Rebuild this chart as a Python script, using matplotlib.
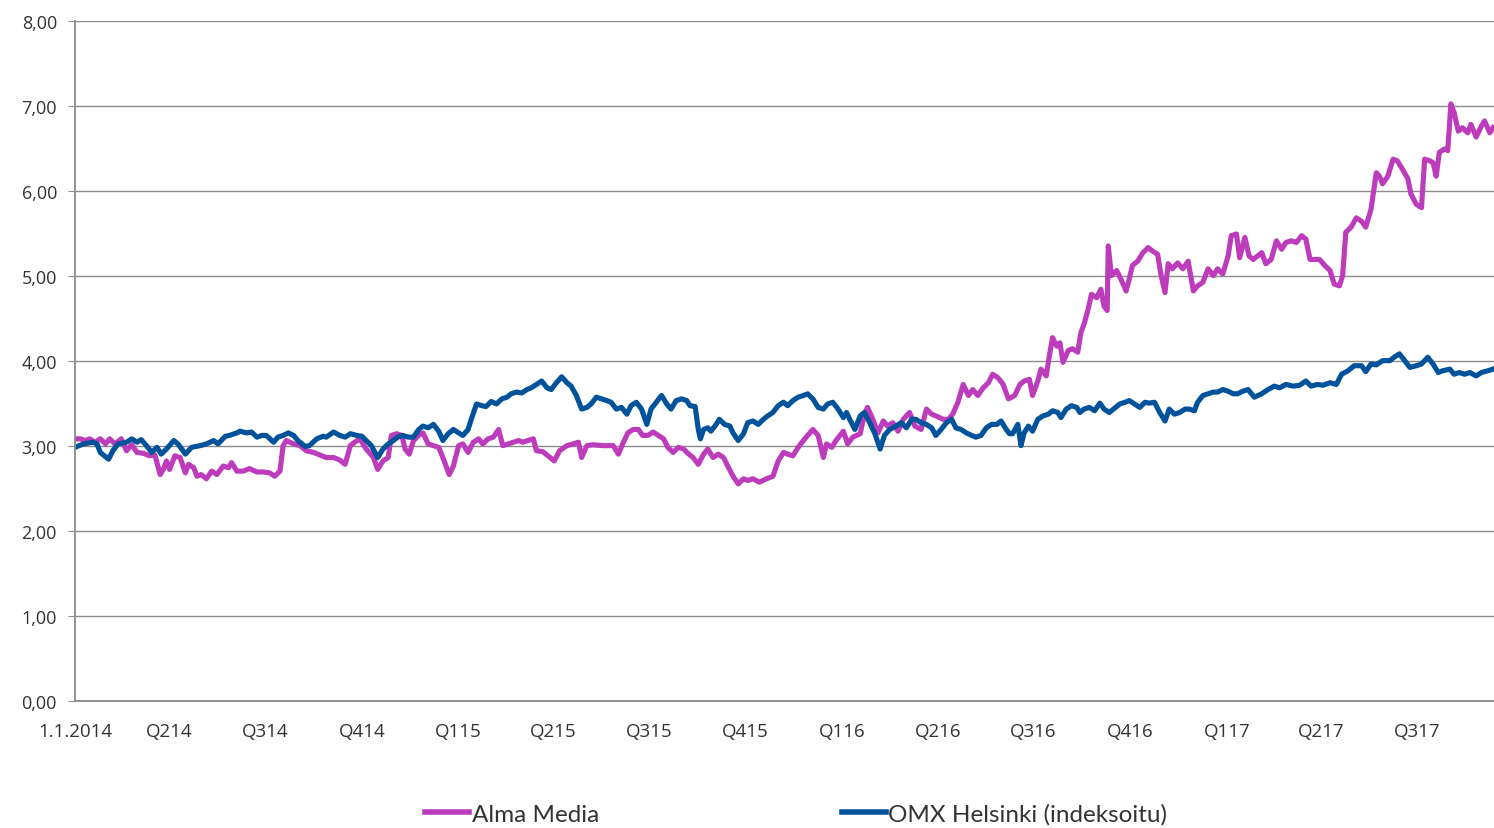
import pandas as pd
import matplotlib
matplotlib.use("Agg")
import matplotlib.pyplot as plt
from matplotlib.ticker import FuncFormatter

# Days since 1.1.2014 and closing values
alma_day = [0, 5, 10, 14, 19, 24, 29, 33, 38, 44, 49, 54, 59, 65, 71, 76, 81, 84, 87, 90,
            95, 100, 105, 108, 113, 116, 120, 125, 130, 135, 141, 146, 149, 154, 160, 166, 173, 179, 185, 190,
            195, 198, 201, 208, 214, 220, 227, 233, 239, 246, 252, 257, 262, 266, 271, 277, 284, 288,
            293, 298, 301, 306, 311, 314, 318, 322, 327, 331, 336, 341, 346, 350, 356, 360, 365, 369, 374, 379,
            384, 388, 393, 398, 403, 407, 412, 417, 422, 426, 431, 436, 439, 445, 452, 456, 461, 468, 474, 479,
            482, 487, 493, 502, 512, 517, 521, 526, 531, 536, 540, 545, 550, 555, 560, 564, 569, 574, 579, 583,
            588, 593,
            598, 602, 607, 612, 617, 621, 626, 631, 636, 640, 645, 651, 658, 664, 669, 674, 678, 683, 688, 693,
            697, 702, 707, 712, 715, 720, 724, 731, 735, 740, 747, 751, 754, 759, 764, 769, 773, 778, 783, 788,
            794, 799, 805, 810, 815, 819, 826, 831, 835, 840, 845, 850, 854, 859, 864, 869, 873, 878, 883, 888,
            894, 899, 903, 908, 911, 916, 919, 924, 927, 930, 934, 937, 940, 945, 949, 954, 957, 960, 964, 967,
            972, 976, 979, 982, 983, 986, 991, 995, 1000, 1003, 1006, 1011, 1016, 1021, 1025, 1030, 1033, 1037, 1040, 1044,
            1049, 1054, 1059, 1064, 1068, 1073, 1078, 1083, 1087, 1092, 1097, 1100, 1105, 1108, 1113, 1117,
            1121, 1125, 1129, 1133, 1138, 1143, 1148, 1152, 1157, 1162, 1167, 1171, 1175, 1179, 1184, 1189, 1194, 1198, 1203, 1206,
            1209, 1214, 1219, 1224, 1228, 1233, 1238, 1241, 1244, 1249, 1254, 1258, 1263, 1268, 1271, 1276, 1281, 1284, 1289, 1292,
            1295, 1298, 1303, 1306, 1309, 1312, 1316, 1320, 1325, 1328, 1333, 1338, 1341, 1346, 1349]
alma_val = [3.09, 3.09, 3.07, 3.09, 3.05, 3.09, 3.03, 3.09, 3.03, 3.09, 2.95, 3.02, 2.93, 2.92, 2.89, 2.90, 2.67, 2.73, 2.83, 2.73,
            2.89, 2.87, 2.69, 2.79, 2.75, 2.65, 2.67, 2.62, 2.71, 2.67, 2.77, 2.75, 2.81, 2.71, 2.71, 2.74, 2.70, 2.70, 2.69, 2.65,
            2.71, 3.01, 3.07, 3.03, 3.01, 2.95, 2.93, 2.90, 2.87, 2.87, 2.84, 2.79, 3.01, 3.05, 3.09, 2.97, 2.87, 2.73,
            2.83, 2.87, 3.13, 3.15, 3.13, 2.97, 2.91, 3.07, 3.13, 3.16, 3.03, 3.01, 2.99, 2.87, 2.67, 2.77, 3.01, 3.03, 2.93, 3.05,
            3.09, 3.03, 3.09, 3.11, 3.20, 3.01, 3.03, 3.05, 3.07, 3.05, 3.07, 3.09, 2.95, 2.94, 2.87, 2.83, 2.95, 3.01, 3.03, 3.05,
            2.87, 3.01, 3.02, 3.01, 3.01, 2.91, 3.03, 3.16, 3.20, 3.20, 3.13, 3.13, 3.17, 3.13, 3.09, 2.99, 2.93, 2.99, 2.97, 2.92,
            2.87, 2.79,
            2.91, 2.97, 2.87, 2.91, 2.87, 2.77, 2.65, 2.56, 2.62, 2.60, 2.62, 2.58, 2.62, 2.65, 2.83, 2.93, 2.91, 2.89, 2.99, 3.07,
            3.13, 3.20, 3.13, 2.87, 3.03, 2.99, 3.07, 3.18, 3.03, 3.11, 3.15, 3.38, 3.46, 3.32, 3.16, 3.30, 3.24, 3.28, 3.18, 3.32,
            3.40, 3.24, 3.20, 3.44, 3.38, 3.36, 3.32, 3.32, 3.38, 3.52, 3.73, 3.60, 3.67, 3.60, 3.69, 3.75, 3.85, 3.81, 3.73, 3.56,
            3.60, 3.73, 3.77, 3.79, 3.60, 3.77, 3.91, 3.83, 4.07, 4.28, 4.18, 4.22, 3.99, 4.13, 4.15, 4.11, 4.34, 4.44, 4.62, 4.79,
            4.75, 4.85, 4.65, 4.60, 5.36, 5.01, 5.07, 4.97, 4.83, 4.97, 5.13, 5.18, 5.28, 5.34, 5.30, 5.26, 5.03, 4.81, 5.15, 5.09,
            5.16, 5.09, 5.18, 4.83, 4.89, 4.93, 5.09, 5.01, 5.09, 5.03, 5.24, 5.48, 5.50, 5.22, 5.46, 5.24,
            5.20, 5.24, 5.28, 5.15, 5.20, 5.42, 5.32, 5.40, 5.42, 5.40, 5.48, 5.44, 5.20, 5.20, 5.20, 5.13, 5.07, 4.91, 4.89, 5.01,
            5.52, 5.58, 5.69, 5.65, 5.58, 5.79, 6.22, 6.18, 6.09, 6.18, 6.38, 6.36, 6.26, 6.15, 5.97, 5.85, 5.81, 6.38, 6.36, 6.34,
            6.18, 6.46, 6.50, 6.48, 7.03, 6.93, 6.71, 6.75, 6.69, 6.79, 6.64, 6.77, 6.83, 6.69, 6.75]

omx_day = [0, 8, 17, 21, 24, 32, 36, 41, 49, 54, 59, 63, 68, 73, 78, 82, 87, 94, 98, 105,
           111, 119, 125, 132, 136, 143, 147, 154, 157, 163, 168, 173, 178, 182, 189, 193, 198, 203, 208, 212,
           219, 223, 230, 236, 239, 246, 252, 257, 262, 268, 273, 277, 282, 287,
           288, 293, 298, 303, 307, 312, 317, 322, 327, 331, 336, 341, 346, 350, 355, 360, 365, 369, 374, 377,
           382, 387, 391, 396, 401, 406, 411, 415, 420, 425, 430, 434, 439, 444, 449, 453, 458, 463, 468, 472,
           477, 482, 487, 491, 496, 501, 506, 510, 515, 520, 525, 529, 534, 539, 544, 548, 553, 558, 563, 567,
           572, 577, 582, 585, 590, 593,
           595, 598, 602, 605, 610, 613, 618, 623, 626, 631, 636, 640, 645, 650, 655, 659, 664, 669, 674, 678,
           683, 688, 693, 697, 702, 707, 712, 716, 721, 726, 731, 734, 737, 742, 747, 751, 756, 761, 766, 770,
           775, 781, 786, 791, 796, 800, 805, 810, 815, 819, 824, 829, 834, 838, 843, 848, 853, 857, 862, 867,
           872, 877, 881, 886, 889,
           892, 897, 900, 903, 907, 911, 916, 921, 926, 930, 935, 938, 943, 948, 953, 956, 960, 965, 970, 975,
           979, 984, 989, 994, 999, 1003, 1008, 1013, 1018, 1022, 1027, 1032, 1037, 1041, 1046, 1051, 1056, 1060, 1065, 1068,
           1073, 1078, 1083, 1087, 1092, 1097, 1102, 1106, 1111, 1116,
           1122, 1129, 1135, 1141, 1146, 1152, 1159, 1165, 1171, 1176, 1182, 1187, 1194, 1200, 1205, 1211, 1217, 1224, 1228, 1233,
           1238, 1244, 1251, 1255, 1260, 1265, 1270, 1276, 1281, 1287, 1292, 1297, 1301, 1308, 1312, 1317, 1322, 1327, 1333, 1338,
           1344, 1349]
omx_val = [2.99, 3.03, 3.05, 3.03, 2.93, 2.85, 2.95, 3.03, 3.05, 3.09, 3.05, 3.08, 3.01, 2.93, 2.99, 2.91, 2.97, 3.07, 3.03, 2.91,
           2.99, 3.01, 3.03, 3.07, 3.03, 3.12, 3.13, 3.16, 3.18, 3.16, 3.17, 3.11, 3.13, 3.13, 3.05, 3.11, 3.13, 3.16, 3.13, 3.07,
           3.00, 3.01, 3.09, 3.12, 3.11, 3.17, 3.13, 3.11, 3.15, 3.13, 3.12, 3.07, 3.01, 2.89,
           2.87, 2.97, 3.03, 3.07, 3.11, 3.13, 3.11, 3.11, 3.20, 3.24, 3.22, 3.26, 3.18, 3.07, 3.15, 3.20, 3.16, 3.13, 3.20, 3.32,
           3.50, 3.48, 3.47, 3.53, 3.50, 3.56, 3.58, 3.62, 3.64, 3.63, 3.67, 3.69, 3.73, 3.77, 3.69, 3.67, 3.75, 3.82, 3.75, 3.71,
           3.60, 3.44, 3.46, 3.50, 3.58, 3.56, 3.54, 3.52, 3.44, 3.46, 3.38, 3.48, 3.52, 3.44, 3.26, 3.44, 3.52, 3.60, 3.50, 3.44,
           3.54, 3.56, 3.54, 3.48, 3.47, 3.20,
           3.09, 3.20, 3.22, 3.18, 3.26, 3.32, 3.26, 3.24, 3.16, 3.07, 3.15, 3.28, 3.30, 3.26, 3.32, 3.36, 3.40, 3.48, 3.52, 3.48,
           3.54, 3.58, 3.60, 3.62, 3.56, 3.46, 3.44, 3.50, 3.52, 3.44, 3.34, 3.40, 3.32, 3.20, 3.36, 3.40, 3.28, 3.15, 2.97, 3.13,
           3.20, 3.24, 3.28, 3.22, 3.32, 3.32, 3.28, 3.26, 3.22, 3.13, 3.20, 3.28, 3.32, 3.22, 3.20, 3.16, 3.13, 3.11, 3.13, 3.22,
           3.26, 3.26, 3.30, 3.20, 3.15,
           3.15, 3.26, 3.01, 3.16, 3.24, 3.18, 3.32, 3.36, 3.38, 3.42, 3.40, 3.34, 3.44, 3.48, 3.46, 3.40, 3.44, 3.46, 3.42, 3.51,
           3.44, 3.40, 3.45, 3.50, 3.52, 3.54, 3.50, 3.46, 3.52, 3.51, 3.52, 3.40, 3.30, 3.44, 3.38, 3.40, 3.44, 3.44, 3.42, 3.52,
           3.60, 3.62, 3.64, 3.64, 3.67, 3.65, 3.62, 3.62, 3.65, 3.67,
           3.58, 3.62, 3.67, 3.71, 3.69, 3.73, 3.71, 3.72, 3.77, 3.71, 3.73, 3.72, 3.75, 3.73, 3.85, 3.89, 3.95, 3.95, 3.88, 3.97,
           3.96, 4.01, 4.01, 4.05, 4.09, 4.01, 3.93, 3.95, 3.97, 4.05, 3.97, 3.87, 3.89, 3.91, 3.85, 3.87, 3.85, 3.87, 3.83, 3.87,
           3.89, 3.91]

tick_labels = ["1.1.2014", "Q214", "Q314", "Q414", "Q115", "Q215", "Q315", "Q415",
               "Q116", "Q216", "Q316", "Q416", "Q117", "Q217", "Q317"]

start = pd.Timestamp("2014-01-01")
alma_x = start + pd.to_timedelta(alma_day, unit="D")
omx_x = start + pd.to_timedelta(omx_day, unit="D")
tick_pos = pd.date_range("2014-01-01", periods=len(tick_labels), freq="QS")

fig = plt.figure(figsize=(14.94, 8.29), dpi=100)
ax = fig.add_axes([0.0502, 0.1526, 0.9498, 0.8203])

ax.plot(alma_x, alma_val, color="#BC3CBC", lw=3.7, solid_joinstyle="round", label="Alma Media")
ax.plot(omx_x, omx_val, color="#00529B", lw=3.7, solid_joinstyle="round", label="OMX Helsinki (indeksoitu)")

ax.set_ylim(0, 8)
ax.set_yticks(range(0, 9))
ax.yaxis.set_major_formatter(FuncFormatter(lambda v, p: f"{v:.2f}".replace(".", ",")))
ax.set_xlim(start, start + pd.Timedelta(days=1350))
ax.set_xticks(tick_pos)
ax.set_xticklabels(tick_labels)

ax.grid(axis="y", color="#8c8c8c", lw=1)
ax.set_axisbelow(True)
for s in ["top", "right"]:
    ax.spines[s].set_visible(False)
for s in ["left", "bottom"]:
    ax.spines[s].set_color("#8c8c8c")
    ax.spines[s].set_linewidth(1.3)

ax.tick_params(axis="y", length=5, color="#8c8c8c", pad=8, labelsize=13, labelcolor="#333333")
ax.tick_params(axis="x", length=0, pad=15, labelsize=13.5, labelcolor="#333333")
for lab in ax.get_xticklabels() + ax.get_yticklabels():
    lab.set_family("Open Sans")

fig.legend(loc="center", bbox_to_anchor=(0.533, 0.017), ncol=2, frameon=False,
           handlelength=1.8, handletextpad=0.1, columnspacing=10,
           prop={"family": "Lato", "size": 17.5})
for t in fig.legends[0].get_texts():
    t.set_color("#333333")
for h in fig.legends[0].legend_handles:
    h.set_linewidth(4)

fig.savefig("out.png", dpi=100)
